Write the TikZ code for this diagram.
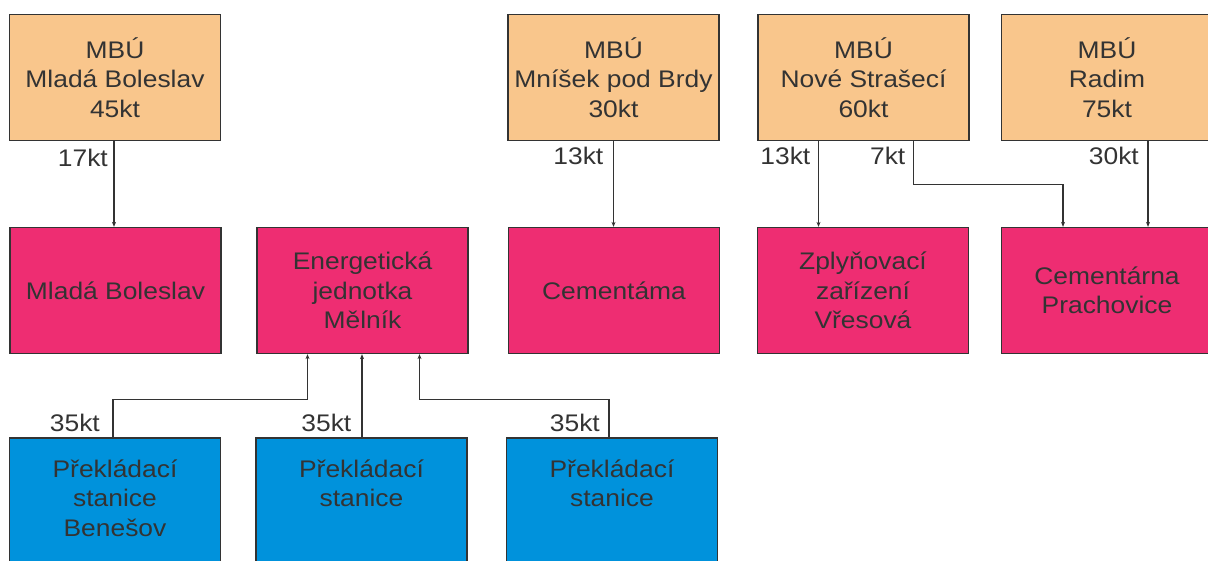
\documentclass[tikz,border=0pt]{standalone}
\usepackage{fontspec}
\setmainfont{Liberation Sans}[FakeStretch=1.1]
\usetikzlibrary{arrows.meta}
\definecolor{orangefill}{HTML}{F9C68C}
\definecolor{pinkfill}{HTML}{EE2D72}
\definecolor{bluefill}{HTML}{0092DC}
\definecolor{ink}{HTML}{333333}
\begin{document}
\begin{tikzpicture}[x=1pt,y=-1pt,
  box/.style={draw=ink, line width=1.3pt, minimum width=211pt, minimum height=126pt,
    inner sep=0pt, align=center, text=ink, font=\fontsize{24}{29.5}\selectfont},
  src/.style={box, fill=orangefill},
  dst/.style={box, fill=pinkfill},
  stn/.style={box, fill=bluefill, minimum height=130pt},
  stntext/.style={align=center, text=ink, font=\fontsize{24}{29.5}\selectfont, anchor=north, inner sep=0pt},
  lbl/.style={text=ink, font=\fontsize{24}{29.5}\selectfont, inner sep=1pt, anchor=east},
  flow/.style={draw=ink, line width=1.3pt, -{Stealth[length=5pt,width=4pt]}}
]
\useasboundingbox (0,0) rectangle (1208,560);

% sources
\node[src] (A) at (115,77.5) {MBÚ\\Mladá Boleslav\\45kt};
\node[src] (B) at (613.5,77.5) {MBÚ\\Mníšek pod Brdy\\30kt};
\node[src] (C) at (863.5,77.5) {MBÚ\\Nové Strašecí\\60kt};
\node[src] (D) at (1107,77.5) {MBÚ\\Radim\\75kt};

% destinations
\node[dst] (MB) at (115.5,290.5) {Mladá Boleslav};
\node[dst] (E) at (362.5,290.5) {Energetická\\jednotka\\Mělník};
\node[dst] (CM) at (614,290.5) {Cementáma};
\node[dst] (Z) at (863,290.5) {Zplyňovací\\zařízení\\Vřesová};
\node[dst] (CP) at (1107,290.5) {Cementárna\\Prachovice};

% stations
\node[stn] (P1) at (115,503) {};
\node[stn] (P2) at (361.5,503) {};
\node[stn] (P3) at (612,503) {};
\node[stntext] (T1) at ([yshift=-22pt]P1.north) {Překládací\\stanice\\Benešov};
\node[stntext] (T2) at ([yshift=-22pt]P2.north) {Překládací\\stanice};
\node[stntext] (T3) at ([yshift=-22pt]P3.north) {Překládací\\stanice};

% top flows
\draw[flow] ([xshift=-1pt]A.south) -- ([xshift=-1pt]A.south |- MB.north);
\draw[flow] (B.south) -- (B.south |- CM.north);
\draw[flow] ([xshift=-45pt]C.south) -- ([xshift=-45pt]C.south |- Z.north);
\draw[flow] ([xshift=50pt]C.south) -- ++(0,43) -| ([xshift=-44pt]CP.north);
\draw[flow] ([xshift=41pt]D.south) -- ([xshift=41pt]D.south |- CP.north);

% bottom flows
\draw[flow] ([xshift=-2pt]P1.north) -- ++(0,-38) -| ([xshift=-55pt]E.south);
\draw[flow] ([xshift=0.5pt]P2.north) -- ([xshift=0.5pt]P2.north |- E.south);
\draw[flow] ([xshift=-3pt]P3.north) -- ++(0,-38) -| ([xshift=57pt]E.south);

% labels
\node[lbl] (L1) at ([xshift=-6pt,yshift=-17pt]A.south) {17kt};
\node[lbl] (L2) at ([xshift=-9pt,yshift=-15pt]B.south) {13kt};
\node[lbl] (L3) at ([xshift=-52pt,yshift=-15pt]C.south) {13kt};
\node[lbl] (L4) at ([xshift=43pt,yshift=-15pt]C.south) {7kt};
\node[lbl] (L5) at ([xshift=33pt,yshift=-15pt]D.south) {30kt};
\node[lbl] (L6) at ([xshift=-14pt,yshift=14pt]P1.north) {35kt};
\node[lbl] (L7) at ([xshift=-9pt,yshift=14pt]P2.north) {35kt};
\node[lbl] (L8) at ([xshift=-11pt,yshift=14pt]P3.north) {35kt};
\end{tikzpicture}
\end{document}
